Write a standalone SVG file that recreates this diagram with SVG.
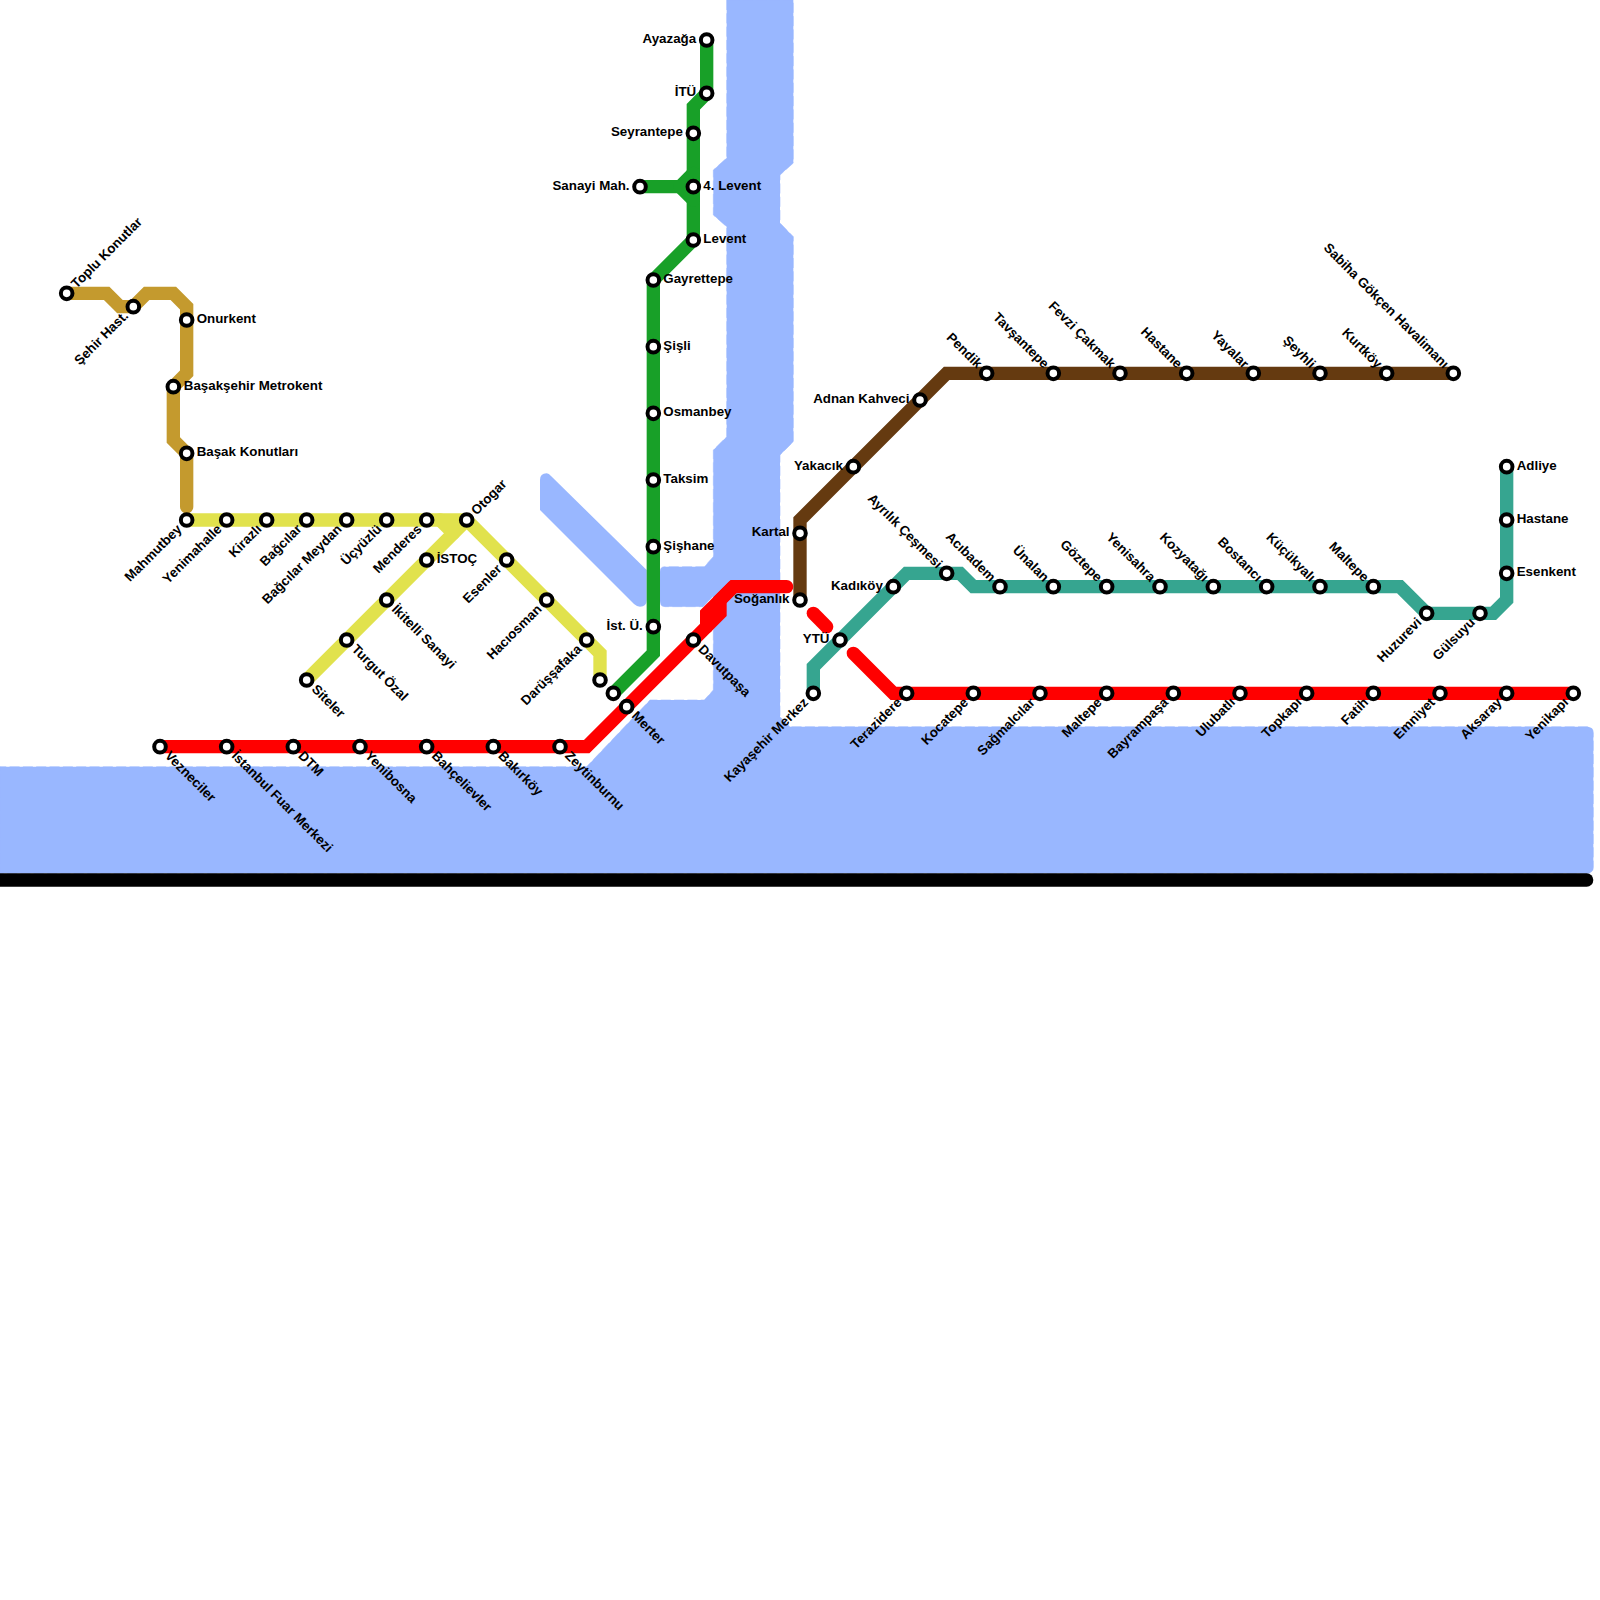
<svg xmlns="http://www.w3.org/2000/svg" width="1600" height="1600" viewBox="0 0 1600 1600">
<style>
.w{fill:#99b7ff;stroke:#99b7ff;stroke-opacity:.55;stroke-width:1;stroke-dasharray:10 3.33}
.ln{fill:none;stroke-width:13.33;stroke-linecap:round;stroke-linejoin:miter}
.red{stroke:#ff0000}.grn{stroke:#18a028}.yel{stroke:#e1e24d}.gld{stroke:#c49a2e}.tea{stroke:#36a590}.brn{stroke:#653a10}.blk{stroke:#000}
circle{fill:#fff;stroke:#000;stroke-width:4}
text{font-family:"Liberation Sans",Arial,sans-serif;font-weight:700;font-size:13.33px;fill:#000}
.e{text-anchor:end}
</style>
<rect width="1600" height="1600" fill="#fff"/>
<g id="water">
<path class="w" d="M726.67,0 L726.67,158 L713.33,170 L713.33,215 L726.67,226.67 L726.67,436.67 L713.33,450 L713.33,556.67 L704.3,566.67 L665,566.67 Q660,566.67 660,572 L660,601 Q660,606.67 665,606.67 L703,606.67 L713.33,596 L713.33,690 L704.3,700 L650,700 L586.67,766.67 L0,766.67 L0,873.33 L1587,873.33 Q1593.33,873.33 1593.33,867 L1593.33,733 Q1593.33,726.67 1587,726.67 L790,726.67 L780,716.67 L780,455 L793.33,441.67 L793.33,236.67 L780,223 L780,175 L793.33,163 L793.33,0 Z"/>
<path class="w" style="stroke:none" d="M540,480 Q540,473.33 546.67,473.33 Q549,473.33 551,476 L646.67,570 L646.67,600 Q646.67,606.67 640,606.67 Q637,606.67 634,604 L540,510 Z"/>
</g>
<g id="connectors">
<path class="ln blk" d="M-8,880 L1586.67,880"/>
<path class="ln gld" d="M66.67,293.33 L106.67,293.33 L120,306.67 L133.33,306.67 L146.67,293.33 L173.33,293.33 L186.67,306.67 L186.67,373.33 L173.33,386.67 L173.33,440 L186.67,453.33 L186.67,506.67"/>
<path class="ln yel" d="M186.67,520 L466.67,520 L600,653.33 L600,680"/>
<path class="ln yel" d="M440,520 L453.33,533.33"/>
<path class="ln yel" d="M466.67,520 L306.67,680"/>
<path class="ln grn" d="M706.67,40 L706.67,93.33 L693.33,106.67 L693.33,240 L653.33,280 L653.33,653.33 L613.33,693.33"/>
<path class="ln grn" d="M640,186.67 L680,186.67 L693.33,173.33"/>
<path class="ln grn" d="M680,186.67 L693.33,200"/>
<path class="ln brn" d="M800,600 L800,520 L946.67,373.33 L1453.33,373.33"/>
<path class="ln tea" d="M813.33,693.33 L813.33,666.67 L906.67,573.33 L960,573.33 L973.33,586.67 L1400,586.67 L1426.67,613.33 L1493.33,613.33 L1506.67,600 L1506.67,466.67"/>
<path class="ln red" d="M160,746.67 L586.67,746.67 L693.33,640 L720,613.33 L720,600 L733.33,586.67 L786.67,586.67"/>
<path class="ln red" d="M733.33,586.67 L706.67,613.33 L706.67,626.67"/>
<path class="ln red" d="M813.33,613.33 L826.67,626.67"/>
<path class="ln red" d="M853.33,653.33 L893.33,693.33 L1573.33,693.33"/>
</g>
<g id="n01" transform="translate(66.67,293.33)"><circle r="5.8"/><text transform="rotate(-45)" x="10" y="4">Toplu Konutlar</text></g>
<g id="n02" transform="translate(133.33,306.67)"><circle r="5.8"/><text class="e" transform="rotate(-45)" x="-10" y="4">Şehir Hast.</text></g>
<g id="n03" transform="translate(186.67,320)"><circle r="5.8"/><text x="10" y="3">Onurkent</text></g>
<g id="n04" transform="translate(173.33,386.67)"><circle r="5.8"/><text x="10.5" y="3">Başakşehir Metrokent</text></g>
<g id="n05" transform="translate(186.67,453.33)"><circle r="5.8"/><text x="10" y="3">Başak Konutları</text></g>
<g id="n06" transform="translate(186.67,520)"><circle r="5.8"/><text class="e" transform="rotate(-45)" x="-10" y="4">Mahmutbey</text></g>
<g id="n07" transform="translate(226.67,520)"><circle r="5.8"/><text class="e" transform="rotate(-45)" x="-10" y="4">Yenimahalle</text></g>
<g id="n08" transform="translate(266.67,520)"><circle r="5.8"/><text class="e" transform="rotate(-45)" x="-10" y="4">Kirazlı</text></g>
<g id="n09" transform="translate(306.67,520)"><circle r="5.8"/><text class="e" transform="rotate(-45)" x="-10" y="4">Bağcılar</text></g>
<g id="n10" transform="translate(346.67,520)"><circle r="5.8"/><text class="e" transform="rotate(-45)" x="-10" y="4">Bağcılar Meydan</text></g>
<g id="n11" transform="translate(386.67,520)"><circle r="5.8"/><text class="e" transform="rotate(-45)" x="-10" y="4">Üçyüzlü</text></g>
<g id="n12" transform="translate(426.67,520)"><circle r="5.8"/><text class="e" transform="rotate(-45)" x="-10" y="4">Menderes</text></g>
<g id="n13" transform="translate(466.67,520)"><circle r="5.8"/><text transform="rotate(-45)" x="10" y="4">Otogar</text></g>
<g id="n14" transform="translate(426.67,560)"><circle r="5.8"/><text x="10" y="3">İSTOÇ</text></g>
<g id="n15" transform="translate(386.67,600)"><circle r="5.8"/><text transform="rotate(45)" x="10" y="4">İkitelli Sanayi</text></g>
<g id="n16" transform="translate(346.67,640)"><circle r="5.8"/><text transform="rotate(45)" x="10" y="4">Turgut Özal</text></g>
<g id="n17" transform="translate(306.67,680)"><circle r="5.8"/><text transform="rotate(45)" x="10" y="4">Siteler</text></g>
<g id="n18" transform="translate(506.67,560)"><circle r="5.8"/><text class="e" transform="rotate(-45)" x="-10" y="4">Esenler</text></g>
<g id="n19" transform="translate(546.67,600)"><circle r="5.8"/><text class="e" transform="rotate(-45)" x="-10" y="4">Hacıosman</text></g>
<g id="n20" transform="translate(586.67,640)"><circle r="5.8"/><text class="e" transform="rotate(-45)" x="-10" y="4">Darüşşafaka</text></g>
<g id="n21" transform="translate(600,680)"><circle r="5.8"/></g>
<g id="n22" transform="translate(613.33,693.33)"><circle r="5.8"/></g>
<g id="n23" transform="translate(626.67,706.67)"><circle r="5.8"/><text transform="rotate(45)" x="10" y="4">Merter</text></g>
<g id="n24" transform="translate(693.33,640)"><circle r="5.8"/><text transform="rotate(45)" x="10" y="4">Davutpaşa</text></g>
<g id="n25" transform="translate(560,746.67)"><circle r="5.8"/><text transform="rotate(45)" x="10" y="4">Zeytinburnu</text></g>
<g id="n26" transform="translate(493.33,746.67)"><circle r="5.8"/><text transform="rotate(45)" x="10" y="4">Bakırköy</text></g>
<g id="n27" transform="translate(426.67,746.67)"><circle r="5.8"/><text transform="rotate(45)" x="10" y="4">Bahçelievler</text></g>
<g id="n28" transform="translate(360,746.67)"><circle r="5.8"/><text transform="rotate(45)" x="10" y="4">Yenibosna</text></g>
<g id="n29" transform="translate(293.33,746.67)"><circle r="5.8"/><text transform="rotate(45)" x="10" y="4">DTM</text></g>
<g id="n30" transform="translate(226.67,746.67)"><circle r="5.8"/><text transform="rotate(45)" x="10" y="4">İstanbul Fuar Merkezi</text></g>
<g id="n31" transform="translate(160,746.67)"><circle r="5.8"/><text transform="rotate(45)" x="10" y="4">Vezneciler</text></g>
<g id="n32" transform="translate(706.67,40)"><circle r="5.8"/><text class="e" x="-10.5" y="3">Ayazağa</text></g>
<g id="n33" transform="translate(706.67,93.33)"><circle r="5.8"/><text class="e" x="-10.5" y="3">İTÜ</text></g>
<g id="n34" transform="translate(693.33,133.33)"><circle r="5.8"/><text class="e" x="-10.5" y="3">Seyrantepe</text></g>
<g id="n35" transform="translate(640,186.67)"><circle r="5.8"/><text class="e" x="-10.5" y="3">Sanayi Mah.</text></g>
<g id="n36" transform="translate(693.33,186.67)"><circle r="5.8"/><text x="10" y="3">4. Levent</text></g>
<g id="n37" transform="translate(693.33,240)"><circle r="5.8"/><text x="10" y="3">Levent</text></g>
<g id="n38" transform="translate(653.33,280)"><circle r="5.8"/><text x="10" y="3">Gayrettepe</text></g>
<g id="n39" transform="translate(653.33,346.67)"><circle r="5.8"/><text x="10" y="3">Şişli</text></g>
<g id="n40" transform="translate(653.33,413.33)"><circle r="5.8"/><text x="10" y="3">Osmanbey</text></g>
<g id="n41" transform="translate(653.33,480)"><circle r="5.8"/><text x="10" y="3">Taksim</text></g>
<g id="n42" transform="translate(653.33,546.67)"><circle r="5.8"/><text x="10" y="3">Şişhane</text></g>
<g id="n43" transform="translate(653.33,626.67)"><circle r="5.8"/><text class="e" x="-10.5" y="3">İst. Ü.</text></g>
<g id="n44" transform="translate(800,600)"><circle r="5.8"/><text class="e" x="-10.5" y="3">Soğanlık</text></g>
<g id="n45" transform="translate(800,533.33)"><circle r="5.8"/><text class="e" x="-10.5" y="3">Kartal</text></g>
<g id="n46" transform="translate(853.33,466.67)"><circle r="5.8"/><text class="e" x="-10.5" y="3">Yakacık</text></g>
<g id="n47" transform="translate(920,400)"><circle r="5.8"/><text class="e" x="-10.5" y="3">Adnan Kahveci</text></g>
<g id="n48" transform="translate(986.67,373.33)"><circle r="5.8"/><text class="e" transform="rotate(45)" x="-10" y="4">Pendik</text></g>
<g id="n49" transform="translate(1053.33,373.33)"><circle r="5.8"/><text class="e" transform="rotate(45)" x="-10" y="4">Tavşantepe</text></g>
<g id="n50" transform="translate(1120,373.33)"><circle r="5.8"/><text class="e" transform="rotate(45)" x="-10" y="4">Fevzi Çakmak</text></g>
<g id="n51" transform="translate(1186.67,373.33)"><circle r="5.8"/><text class="e" transform="rotate(45)" x="-10" y="4">Hastane</text></g>
<g id="n52" transform="translate(1253.33,373.33)"><circle r="5.8"/><text class="e" transform="rotate(45)" x="-10" y="4">Yayalar</text></g>
<g id="n53" transform="translate(1320,373.33)"><circle r="5.8"/><text class="e" transform="rotate(45)" x="-10" y="4">Şeyhli</text></g>
<g id="n54" transform="translate(1386.67,373.33)"><circle r="5.8"/><text class="e" transform="rotate(45)" x="-10" y="4">Kurtköy</text></g>
<g id="n55" transform="translate(1453.33,373.33)"><circle r="5.8"/><text class="e" transform="rotate(45)" x="-10" y="4">Sabiha Gökçen Havalimanı</text></g>
<g id="n56" transform="translate(813.33,693.33)"><circle r="5.8"/><text class="e" transform="rotate(-45)" x="-10" y="4">Kayaşehir Merkez</text></g>
<g id="n57" transform="translate(840,640)"><circle r="5.8"/><text class="e" x="-10.5" y="3">YTÜ</text></g>
<g id="n58" transform="translate(893.33,586.67)"><circle r="5.8"/><text class="e" x="-10.5" y="3">Kadıköy</text></g>
<g id="n59" transform="translate(946.67,573.33)"><circle r="5.8"/><text class="e" transform="rotate(45)" x="-10" y="4">Ayrılık Çeşmesi</text></g>
<g id="n60" transform="translate(1000,586.67)"><circle r="5.8"/><text class="e" transform="rotate(45)" x="-10" y="4">Acıbadem</text></g>
<g id="n61" transform="translate(1053.33,586.67)"><circle r="5.8"/><text class="e" transform="rotate(45)" x="-10" y="4">Ünalan</text></g>
<g id="n62" transform="translate(1106.67,586.67)"><circle r="5.8"/><text class="e" transform="rotate(45)" x="-10" y="4">Göztepe</text></g>
<g id="n63" transform="translate(1160,586.67)"><circle r="5.8"/><text class="e" transform="rotate(45)" x="-10" y="4">Yenisahra</text></g>
<g id="n64" transform="translate(1213.33,586.67)"><circle r="5.8"/><text class="e" transform="rotate(45)" x="-10" y="4">Kozyatağı</text></g>
<g id="n65" transform="translate(1266.67,586.67)"><circle r="5.8"/><text class="e" transform="rotate(45)" x="-10" y="4">Bostancı</text></g>
<g id="n66" transform="translate(1320,586.67)"><circle r="5.8"/><text class="e" transform="rotate(45)" x="-10" y="4">Küçükyalı</text></g>
<g id="n67" transform="translate(1373.33,586.67)"><circle r="5.8"/><text class="e" transform="rotate(45)" x="-10" y="4">Maltepe</text></g>
<g id="n68" transform="translate(1426.67,613.33)"><circle r="5.8"/><text class="e" transform="rotate(-45)" x="-10" y="4">Huzurevi</text></g>
<g id="n69" transform="translate(1480,613.33)"><circle r="5.8"/><text class="e" transform="rotate(-45)" x="-10" y="4">Gülsuyu</text></g>
<g id="n70" transform="translate(1506.67,573.33)"><circle r="5.8"/><text x="10" y="3">Esenkent</text></g>
<g id="n71" transform="translate(1506.67,520)"><circle r="5.8"/><text x="10" y="3">Hastane</text></g>
<g id="n72" transform="translate(1506.67,466.67)"><circle r="5.8"/><text x="10" y="3">Adliye</text></g>
<g id="n73" transform="translate(906.67,693.33)"><circle r="5.8"/><text class="e" transform="rotate(-45)" x="-10" y="4">Terazidere</text></g>
<g id="n74" transform="translate(973.33,693.33)"><circle r="5.8"/><text class="e" transform="rotate(-45)" x="-10" y="4">Kocatepe</text></g>
<g id="n75" transform="translate(1040,693.33)"><circle r="5.8"/><text class="e" transform="rotate(-45)" x="-10" y="4">Sağmalcılar</text></g>
<g id="n76" transform="translate(1106.67,693.33)"><circle r="5.8"/><text class="e" transform="rotate(-45)" x="-10" y="4">Maltepe</text></g>
<g id="n77" transform="translate(1173.33,693.33)"><circle r="5.8"/><text class="e" transform="rotate(-45)" x="-10" y="4">Bayrampaşa</text></g>
<g id="n78" transform="translate(1240,693.33)"><circle r="5.8"/><text class="e" transform="rotate(-45)" x="-10" y="4">Ulubatlı</text></g>
<g id="n79" transform="translate(1306.67,693.33)"><circle r="5.8"/><text class="e" transform="rotate(-45)" x="-10" y="4">Topkapı</text></g>
<g id="n80" transform="translate(1373.33,693.33)"><circle r="5.8"/><text class="e" transform="rotate(-45)" x="-10" y="4">Fatih</text></g>
<g id="n81" transform="translate(1440,693.33)"><circle r="5.8"/><text class="e" transform="rotate(-45)" x="-10" y="4">Emniyet</text></g>
<g id="n82" transform="translate(1506.67,693.33)"><circle r="5.8"/><text class="e" transform="rotate(-45)" x="-10" y="4">Aksaray</text></g>
<g id="n83" transform="translate(1573.33,693.33)"><circle r="5.8"/><text class="e" transform="rotate(-45)" x="-10" y="4">Yenikapı</text></g>
</svg>
